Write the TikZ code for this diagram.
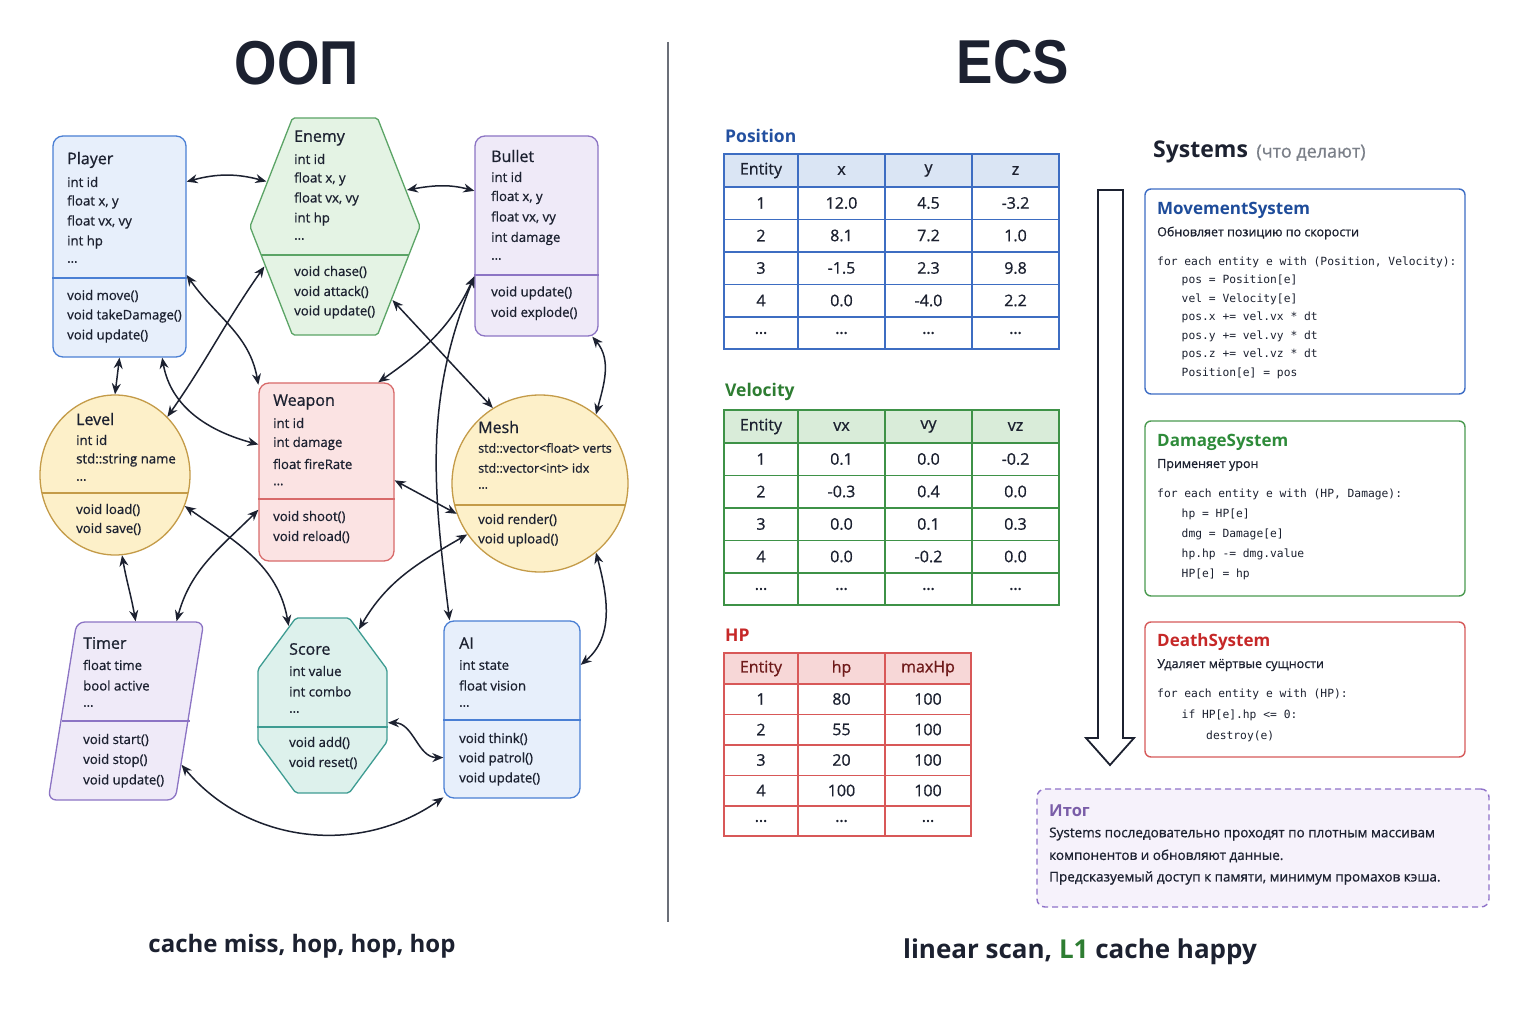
\documentclass[tikz,border=0pt]{standalone}
\usepackage{fontspec}
\setmainfont{Open Sans}
\newfontfamily\medfont{Open Sans}[FakeBold=0.8]
\newfontfamily\codefont{DejaVu Sans Mono}
\newfontfamily\headfont{Liberation Sans}
\usepackage{graphicx}
\usepackage{tikz}
\usetikzlibrary{
  arrows.meta,
  shapes.geometric,
  calc
}
\definecolor{ink}{HTML}{1C2130}
\definecolor{blueline}{HTML}{4A7FD4}
\definecolor{bluefill}{HTML}{E7EFFB}
\definecolor{greenline}{HTML}{5BA466}
\definecolor{greenfill}{HTML}{E4F3E4}
\definecolor{purpline}{HTML}{8C74C4}
\definecolor{purpfill}{HTML}{EFEAF8}
\definecolor{yelline}{HTML}{C49B48}
\definecolor{yelfill}{HTML}{FDF0C9}
\definecolor{redline}{HTML}{D86A6A}
\definecolor{redfill}{HTML}{FBE3E3}
\definecolor{tealline}{HTML}{3E9C92}
\definecolor{tealfill}{HTML}{DDF1EC}
\definecolor{posblue}{HTML}{2350A0}
\definecolor{posline}{HTML}{3D6DC2}
\definecolor{posfill}{HTML}{DAE5F4}
\definecolor{velgreen}{HTML}{2E7D32}
\definecolor{velline}{HTML}{3E9247}
\definecolor{velfill}{HTML}{D9ECD9}
\definecolor{hpred}{HTML}{C62828}
\definecolor{hpline}{HTML}{D85858}
\definecolor{hpfill}{HTML}{F7D7D7}
\definecolor{hphead}{HTML}{6E1A1A}
\definecolor{movblue}{HTML}{1E4C9A}
\definecolor{movline}{HTML}{3C6CC4}
\definecolor{dmggreen}{HTML}{2E8B3A}
\definecolor{dmgline}{HTML}{4A9A50}
\definecolor{dthline}{HTML}{D65A5A}
\definecolor{itogtext}{HTML}{7A5DA8}
\definecolor{itogline}{HTML}{8F72C9}
\definecolor{itogfill}{HTML}{F6F2FB}
\definecolor{divgray}{HTML}{6B6F78}
\definecolor{notegray}{HTML}{7A7F88}

\begin{document}
\begin{tikzpicture}[x=1pt, y=1pt,
  cls/.style={draw, line width=1.3pt, inner sep=0pt},
  ttl/.style={anchor=west, inner sep=0pt, text=ink, font=\medfont\fontsize{16}{18}\selectfont},
  mem/.style={anchor=west, inner sep=0pt, text=ink, font=\medfont\fontsize{13.2}{15}\selectfont},
  link/.style={line width=1.5pt, draw=ink, {Stealth[length=11pt,width=9pt]}-{Stealth[length=11pt,width=9pt]}},
  cell/.style={inner sep=0pt, text=ink, font=\medfont\fontsize{16}{18}\selectfont},
  tbl/.style={line width=1.4pt},
  lbl/.style={anchor=west, inner sep=0pt, font=\bfseries\fontsize{17.5}{20}\selectfont},
  sysbox/.style={draw, line width=1.4pt, rounded corners=6pt, fill=white},
  systtl/.style={anchor=west, inner sep=0pt, font=\bfseries\fontsize{17}{20}\selectfont},
  syssub/.style={anchor=west, inner sep=0pt, text=ink, font=\medfont\fontsize{12.5}{15}\selectfont},
  code/.style={anchor=west, inner sep=0pt, text=ink, font=\codefont\fontsize{11.3}{13}\selectfont},
  bigtitle/.style={inner sep=0pt, text=ink, font=\headfont\bfseries\fontsize{62}{62}\selectfont}
]
\useasboundingbox[fill=white] (0,0) rectangle (1535,-1024);

% titles and divider
\node[bigtitle] (oop) at (297,-63) {\scalebox{0.88}[1]{ООП}};
\node[bigtitle] (ecs) at (1013,-62) {\scalebox{0.88}[1]{ECS}};
\draw[line width=1.5pt, divgray] (668,-42) -- (668,-922);

% ---------------- OOP classes ----------------
% Player
\node[cls, draw=blueline, fill=bluefill, rounded corners=10pt, minimum width=133, minimum height=221] (player) at (119.5,-246.5) {};
\draw[blueline, line width=1.3pt] (player.west |- 0,-278) -- (player.east |- 0,-278);
\node[ttl] (player-t) at (67,-160) {Player};
\foreach \t [count=\i] in {int id, {float x, y}, {float vx, vy}, int hp, …}
  \node[mem] (player-f\i) at (67,{-162-20*\i}) {\t};
\foreach \t [count=\i] in {void move(), void takeDamage(), void update()}
  \node[mem] (player-m\i) at (67,{-276-20*\i}) {\t};

% Enemy
\node[cls, draw=greenline, fill=greenfill, regular polygon, regular polygon sides=6, minimum size=100, rounded corners=2pt, shift={(335,-226.5)}, xscale=1.7, yscale=2.506, transform shape] (enemy) at (0,0) {};
\draw[greenline, line width=1.3pt] (261,-255) -- (409,-255);
\node[ttl] (enemy-t) at (294,-138) {Enemy};
\foreach \t [count=\i] in {int id, {float x, y}, {float vx, vy}, int hp, …}
  \node[mem] (enemy-f\i) at (294,{-139-20*\i}) {\t};
\foreach \t [count=\i] in {void chase(), void attack(), void update()}
  \node[mem] (enemy-m\i) at (294,{-252-20*\i}) {\t};

% Bullet
\node[cls, draw=purpline, fill=purpfill, rounded corners=10pt, minimum width=123, minimum height=200] (bullet) at (536.5,-236) {};
\draw[purpline, line width=1.3pt] (bullet.west |- 0,-275) -- (bullet.east |- 0,-275);
\node[ttl] (bullet-t) at (491,-156) {Bullet};
\foreach \t [count=\i] in {int id, {float x, y}, {float vx, vy}, int damage, …}
  \node[mem] (bullet-f\i) at (491,{-156.5-20.5*\i}) {\t};
\foreach \t [count=\i] in {void update(), void explode()}
  \node[mem] (bullet-m\i) at (491,{-272.5-20.5*\i}) {\t};

% Level
\node[cls, draw=yelline, fill=yelfill, ellipse, minimum width=150, minimum height=160] (level) at (115,-475) {};
\begin{scope}
  \clip (level.center) ellipse [x radius=75, y radius=80];
  \draw[yelline, line width=1.3pt] (30,-493) -- (200,-493);
\end{scope}
\node[ttl] (level-t) at (76,-419) {Level};
\foreach \t [count=\i] in {int id, std::string name, …}
  \node[mem] (level-f\i) at (76,{-420-20*\i}) {\t};
\foreach \t [count=\i] in {void load(), void save()}
  \node[mem] (level-m\i) at (76,{-491-19*\i}) {\t};

% Weapon
\node[cls, draw=redline, fill=redfill, rounded corners=10pt, minimum width=135, minimum height=178] (weapon) at (326.5,-472) {};
\draw[redline, line width=1.3pt] (weapon.west |- 0,-499) -- (weapon.east |- 0,-499);
\node[ttl] (weapon-t) at (273,-402) {Weapon};
\foreach \t [count=\i] in {int id, int damage, float fireRate, …}
  \node[mem] (weapon-f\i) at (273,{-402.5-20.5*\i}) {\t};
\foreach \t [count=\i] in {void shoot(), void reload()}
  \node[mem] (weapon-m\i) at (273,{-497-20*\i}) {\t};

% Mesh
\node[cls, draw=yelline, fill=yelfill, ellipse, minimum width=176, minimum height=177] (mesh) at (540,-483.5) {};
\begin{scope}
  \clip (mesh.center) ellipse [x radius=88, y radius=88.5];
  \draw[yelline, line width=1.3pt] (440,-505) -- (640,-505);
\end{scope}
\node[ttl] (mesh-t) at (478,-427) {Mesh};
\foreach \t [count=\i] in {std::vector<float> verts, std::vector<int> idx, …}
  \node[mem, font=\medfont\fontsize{12.5}{14}\selectfont] (mesh-f\i) at (478,{-428-20*\i}) {\t};
\foreach \t [count=\i] in {void render(), void upload()}
  \node[mem] (mesh-m\i) at (478,{-500-20*\i}) {\t};

% Timer
\node[cls, draw=purpline, fill=purpfill, rounded corners=8pt, minimum width=127, minimum height=178, shift={(126,-711)}, xslant=0.16, transform shape] (timer) at (0,0) {};
\draw[purpline, line width=1.3pt] ([yshift=-10pt]timer.west) -- ([yshift=-10pt]timer.east);
\node[ttl] (timer-t) at (83,-643) {Timer};
\foreach \t [count=\i] in {float time, bool active, …}
  \node[mem] (timer-f\i) at (83,{-644.5-20.5*\i}) {\t};
\foreach \t [count=\i] in {void start(), void stop(), void update()}
  \node[mem] (timer-m\i) at (83,{-719.5-20.5*\i}) {\t};

% Score
\node[cls, draw=tealline, fill=tealfill, regular polygon, regular polygon sides=8, minimum size=100, rounded corners=2pt, shift={(322.5,-705.5)}, xscale=1.396, yscale=1.894, transform shape] (score) at (0,0) {};
\draw[tealline, line width=1.3pt] (score.west |- 0,-727) -- (score.east |- 0,-727);
\node[ttl] (score-t) at (289,-649) {Score};
\foreach \t [count=\i] in {int value, int combo, …}
  \node[mem] (score-f\i) at (289,{-650.5-20.5*\i}) {\t};
\foreach \t [count=\i] in {void add(), void reset()}
  \node[mem] (score-m\i) at (289,{-723-20*\i}) {\t};

% AI
\node[cls, draw=blueline, fill=bluefill, rounded corners=10pt, minimum width=136, minimum height=177] (ai) at (512,-709.5) {};
\draw[blueline, line width=1.3pt] (ai.west |- 0,-720) -- (ai.east |- 0,-720);
\node[ttl] (ai-t) at (459,-643) {AI};
\foreach \t [count=\i] in {int state, float vision, …}
  \node[mem] (ai-f\i) at (459,{-644.5-20.5*\i}) {\t};
\foreach \t [count=\i] in {void think(), void patrol(), void update()}
  \node[mem] (ai-m\i) at (459,{-719-20*\i}) {\t};

% pointer chasing
\draw[link] (player.44) to[out=15,in=165] (enemy.156);
\draw[link] (enemy.19) to[out=10,in=165] (bullet.144);
\draw[link] (player.south) -- (level.north);
\draw[link] (player.-23) to[out=-55,in=100] (weapon.128);
\draw[link] (level.48) to[out=55,in=-125] (enemy.201);
\draw[link] (player.-69) to[out=-80,in=165] (weapon.158);
\draw[link] (weapon.60) to[out=35,in=-115] (bullet.213);
\draw[link] (ai.125) to[out=97,in=-112] (bullet.213);
\draw[link] (enemy.-41) -- (mesh.122);
\draw[link] (bullet.-61) to[out=-50,in=75] (mesh.51);
\draw[link] (weapon.-7) -- (mesh.200);
\draw[link] (level.-85) to[out=-80,in=100] (timer.93);
\draw[link] (weapon.209) to[out=-135,in=75] (timer.68);
\draw[link] (level.-24) to[out=-35,in=100] (score.120);
\draw[link] (mesh.215) to[out=-150,in=60] (score.57);
\draw[link] (mesh.-51) to[out=-75,in=40] (ai.33);
\draw[link] (score.-11) to[out=0,in=180] (ai.215);
\draw[link] (timer.-40) to[out=-50,in=-145] (ai.232);

\node[inner sep=0pt, text=ink, font=\bfseries\fontsize{24}{28}\selectfont] (miss) at (302,-946) {cache miss, hop, hop, hop};

% ---------------- ECS tables ----------------
% Position
\node[lbl, text=posblue] (pos-lbl) at (725,-136) {Position};
\fill[posfill] (724,-154) rectangle (1059,-187);
\foreach \y in {187,219.5,252,284.5,317} \draw[tbl, posline] (724,-\y) -- (1059,-\y);
\foreach \x in {798,885,972} \draw[tbl, posline] (\x,-154) -- (\x,-349);
\draw[tbl, posline] (724,-154) rectangle (1059,-349);
\foreach \e/\a/\b/\c [count=\r from 0] in {Entity/x/y/z, 1/12.0/4.5/-3.2, 2/8.1/7.2/1.0, 3/-1.5/2.3/9.8, 4/0.0/-4.0/2.2, …/…/…/…}
  \foreach \t/\x [count=\k] in {\e/761, \a/841.5, \b/928.5, \c/1015.5}
    \node[cell] (pos-\r-\k) at (\x,{-170.5-32.5*\r}) {\t};

% Velocity
\node[lbl, text=velgreen] (vel-lbl) at (725,-392) {Velocity};
\fill[velfill] (724,-410) rectangle (1059,-443);
\foreach \y in {443,475.5,508,540.5,573} \draw[tbl, velline] (724,-\y) -- (1059,-\y);
\foreach \x in {798,885,972} \draw[tbl, velline] (\x,-410) -- (\x,-605);
\draw[tbl, velline] (724,-410) rectangle (1059,-605);
\foreach \e/\a/\b/\c [count=\r from 0] in {Entity/vx/vy/vz, 1/0.1/0.0/-0.2, 2/-0.3/0.4/0.0, 3/0.0/0.1/0.3, 4/0.0/-0.2/0.0, …/…/…/…}
  \foreach \t/\x [count=\k] in {\e/761, \a/841.5, \b/928.5, \c/1015.5}
    \node[cell] (vel-\r-\k) at (\x,{-426.5-32.5*\r}) {\t};

% HP
\node[lbl, text=hpred] (hp-lbl) at (725,-635) {HP};
\fill[hpfill] (724,-653) rectangle (971,-684);
\foreach \y in {684,714.5,745,775.5,806} \draw[tbl, hpline] (724,-\y) -- (971,-\y);
\foreach \x in {798,885} \draw[tbl, hpline] (\x,-653) -- (\x,-836);
\draw[tbl, hpline] (724,-653) rectangle (971,-836);
\foreach \e/\a/\b [count=\r from 0] in {Entity/hp/maxHp, 1/80/100, 2/55/100, 3/20/100, 4/100/100, …/…/…}
  \foreach \t/\x [count=\k] in {\e/761, \a/841.5, \b/928}
    \node[cell] (hp-\r-\k) at (\x,{-668.5-30.5*\r}) {\ifnum\r=0 \color{hphead}\fi\t};

% ---------------- Systems ----------------
\node[anchor=west, inner sep=0pt, text=ink, font=\bfseries\fontsize{23}{26}\selectfont] (sys) at (1153,-152) {Systems};
\node[anchor=base west, inner sep=0pt, text=notegray, font=\medfont\fontsize{18}{20}\selectfont] (sys-note) at ([xshift=8pt]sys.base east) {(что делают)};

\draw[line width=1.8pt, draw=ink, fill=white, line join=miter]
  (1098,-190) -- (1123,-190) -- (1123,-738) -- (1134,-738) -- (1110,-765)
  -- (1086,-738) -- (1098,-738) -- cycle;

% MovementSystem
\node[sysbox, draw=movline, minimum width=320, minimum height=205] (move) at (1305,-291.5) {};
\node[systtl, text=movblue] (move-t) at (1157,-210) {MovementSystem};
\node[syssub] (move-s) at (1157,-233) {Обновляет позицию по скорости};
\foreach \i/\t [count=\k] in {0/{for each entity e with (Position, Velocity):}, 1/{pos = Position[e]}, 1/{vel = Velocity[e]}, 1/{pos.x += vel.vx * dt}, 1/{pos.y += vel.vy * dt}, 1/{pos.z += vel.vz * dt}, 1/{Position[e] = pos}}
  \node[code] (move-c\k) at ({1157+24.5*\i},{-243.5-18.5*\k}) {\t};

% DamageSystem
\node[sysbox, draw=dmgline, minimum width=320, minimum height=175] (dmg) at (1305,-508.5) {};
\node[systtl, text=dmggreen] (dmg-t) at (1157,-442) {DamageSystem};
\node[syssub] (dmg-s) at (1157,-465) {Применяет урон};
\foreach \i/\t [count=\k] in {0/{for each entity e with (HP, Damage):}, 1/{hp = HP[e]}, 1/{dmg = Damage[e]}, 1/{hp.hp -= dmg.value}, 1/{HP[e] = hp}}
  \node[code] (dmg-c\k) at ({1157+24.5*\i},{-474-20*\k}) {\t};

% DeathSystem
\node[sysbox, draw=dthline, minimum width=320, minimum height=135] (dth) at (1305,-689.5) {};
\node[systtl, text=hpred] (dth-t) at (1157,-642) {DeathSystem};
\node[syssub] (dth-s) at (1157,-665) {Удаляет мёртвые сущности};
\foreach \i/\t [count=\k] in {0/{for each entity e with (HP):}, 1/{if HP[e].hp <= 0:}, 2/{destroy(e)}}
  \node[code] (dth-c\k) at ({1157+24.5*\i},{-673-21*\k}) {\t};

% summary
\node[draw=itogline, fill=itogfill, dashed, dash pattern=on 6pt off 4pt, line width=1.4pt, rounded corners=8pt, minimum width=452, minimum height=118] (itog) at (1263,-848) {};
\node[anchor=west, inner sep=0pt, text=itogtext, font=\bfseries\fontsize{16.5}{18}\selectfont] (itog-t) at (1049,-811) {Итог};
\foreach \t [count=\k] in {Systems последовательно проходят по плотным массивам, компонентов и обновляют данные., {Предсказуемый доступ к памяти, минимум промахов кэша.}}
  \node[syssub, font=\medfont\fontsize{13.5}{15}\selectfont] (itog-l\k) at (1049,{-812-22*\k}) {\t};

\node[inner sep=0pt, text=ink, font=\bfseries\fontsize{26}{30}\selectfont] (scan) at (1080,-952) {linear scan, \textcolor{velgreen}{L1} cache happy};

\end{tikzpicture}
\end{document}
